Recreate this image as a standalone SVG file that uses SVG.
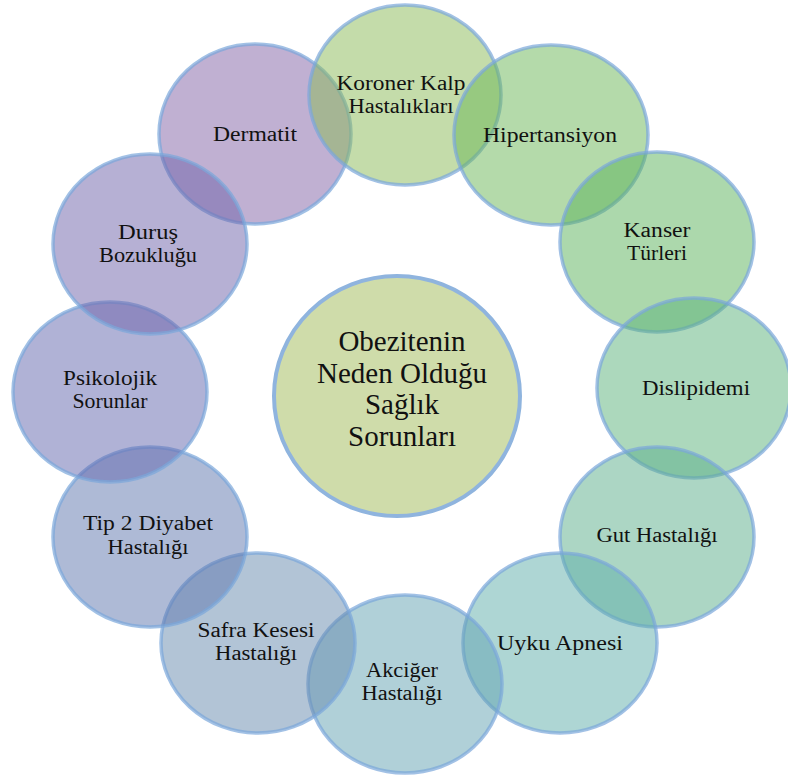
<svg xmlns="http://www.w3.org/2000/svg" width="788" height="779" viewBox="0 0 788 779">
<style>
.c{fill-opacity:0.5;stroke:#7aa6da;stroke-opacity:0.7;stroke-width:3.5}
.t{font-family:"Liberation Serif","DejaVu Serif",serif;font-size:20px;fill:#111;text-anchor:middle}
.m{font-family:"Liberation Serif","DejaVu Serif",serif;font-size:29px;fill:#111;text-anchor:middle}
</style>
<rect width="788" height="779" fill="#ffffff"/>
<g id="center">
<ellipse cx="397" cy="396" rx="123" ry="120" fill="#cfdcaa" stroke="#8fb4de" stroke-width="4"/>
<text class="m" x="402" y="351">Obezitenin</text>
<text class="m" x="402" y="383">Neden Olduğu</text>
<text class="m" x="402" y="414">Sağlık</text>
<text class="m" x="402" y="446">Sorunları</text>
</g>
<g id="dermatit"><ellipse class="c" cx="255" cy="134" rx="96" ry="90" fill="#8161a5"/></g>
<g id="koroner"><ellipse class="c" cx="405" cy="95" rx="96" ry="90" fill="#89b955"/></g>
<g id="hipertansiyon"><ellipse class="c" cx="551" cy="135" rx="97" ry="90" fill="#69b555"/></g>
<g id="kanser"><ellipse class="c" cx="657" cy="242" rx="97" ry="90" fill="#59b159"/></g>
<g id="dislipidemi"><ellipse class="c" cx="694" cy="388" rx="97" ry="90" fill="#59b179"/></g>
<g id="gut"><ellipse class="c" cx="657" cy="537" rx="97" ry="90" fill="#59ad89"/></g>
<g id="uyku"><ellipse class="c" cx="560" cy="643" rx="97" ry="90" fill="#5dada9"/></g>
<g id="akciger"><ellipse class="c" cx="405" cy="684" rx="97" ry="89" fill="#61a1b1"/></g>
<g id="safra"><ellipse class="c" cx="258" cy="643" rx="97" ry="90" fill="#6589ad"/></g>
<g id="tip2"><ellipse class="c" cx="150" cy="537" rx="97" ry="90" fill="#5d75ad"/></g>
<g id="psikolojik"><ellipse class="c" cx="110" cy="392" rx="97" ry="90" fill="#6165ad"/></g>
<g id="durus"><ellipse class="c" cx="150" cy="244" rx="97" ry="90" fill="#6d61a9"/></g>
<g id="labels">
<text class="t" x="401" y="90" textLength="129" lengthAdjust="spacingAndGlyphs">Koroner Kalp</text>
<text class="t" x="401" y="113" textLength="105" lengthAdjust="spacingAndGlyphs">Hastalıkları</text>
<text class="t" x="550" y="142" textLength="134" lengthAdjust="spacingAndGlyphs">Hipertansiyon</text>
<text class="t" x="657" y="237" textLength="67" lengthAdjust="spacingAndGlyphs">Kanser</text>
<text class="t" x="657" y="260" textLength="60" lengthAdjust="spacingAndGlyphs">Türleri</text>
<text class="t" x="696" y="395" textLength="108" lengthAdjust="spacingAndGlyphs">Dislipidemi</text>
<text class="t" x="657" y="542" textLength="121" lengthAdjust="spacingAndGlyphs">Gut Hastalığı</text>
<text class="t" x="560" y="650" textLength="126" lengthAdjust="spacingAndGlyphs">Uyku Apnesi</text>
<text class="t" x="402" y="677" textLength="72" lengthAdjust="spacingAndGlyphs">Akciğer</text>
<text class="t" x="402" y="700" textLength="81" lengthAdjust="spacingAndGlyphs">Hastalığı</text>
<text class="t" x="256" y="637" textLength="117" lengthAdjust="spacingAndGlyphs">Safra Kesesi</text>
<text class="t" x="256" y="660" textLength="82" lengthAdjust="spacingAndGlyphs">Hastalığı</text>
<text class="t" x="148" y="530" textLength="130" lengthAdjust="spacingAndGlyphs">Tip 2 Diyabet</text>
<text class="t" x="148" y="554" textLength="81" lengthAdjust="spacingAndGlyphs">Hastalığı</text>
<text class="t" x="110" y="385" textLength="94" lengthAdjust="spacingAndGlyphs">Psikolojik</text>
<text class="t" x="110" y="408" textLength="75" lengthAdjust="spacingAndGlyphs">Sorunlar</text>
<text class="t" x="148" y="239" textLength="60" lengthAdjust="spacingAndGlyphs">Duruş</text>
<text class="t" x="148" y="262" textLength="98" lengthAdjust="spacingAndGlyphs">Bozukluğu</text>
<text class="t" x="255" y="141" textLength="84" lengthAdjust="spacingAndGlyphs">Dermatit</text>
</g>
</svg>
